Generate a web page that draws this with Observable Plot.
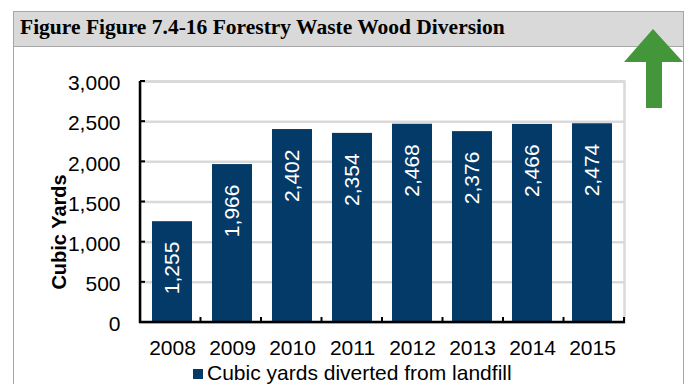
<!DOCTYPE html>
<html>
<head>
<meta charset="utf-8">
<script src="https://cdn.jsdelivr.net/npm/d3@7"></script>
<script src="https://cdn.jsdelivr.net/npm/@observablehq/plot@0.6"></script>
<style>
  html, body { margin: 0; padding: 0; background: #fff; }
  #wrap { position: relative; width: 690px; height: 384px; overflow: hidden; font-family: Arial, "Liberation Sans", sans-serif; }
  #box { position: absolute; left: 13px; top: 11px; width: 671px; height: 400px; border: 1px solid #a6a6a6; box-sizing: border-box; }
  #header { position: absolute; left: 13px; top: 11px; width: 671px; height: 36px; background: #d9d9d9; border: 1px solid #a6a6a6; box-sizing: border-box; }
  #title { position: absolute; left: 20px; top: 15px; font-family: "Liberation Serif", "Times New Roman", serif; font-weight: bold; font-size: 21.5px; color: #000; white-space: nowrap; }
  #chart { position: absolute; left: 0; top: 0; }
  #arrow { position: absolute; left: 0; top: 0; }
  #legend { position: absolute; left: 193px; top: 362px; font-size: 21px; line-height: 21px; color: #000; white-space: nowrap; display: flex; align-items: center; }
  #legend .sw { width: 10px; height: 10px; background: #043a68; margin-right: 4px; margin-top: 3px; }
</style>
</head>
<body>
<div id="wrap">
  <div id="box"></div>
  <div id="header"></div>
  <div id="title">Figure Figure 7.4-16 Forestry Waste Wood Diversion</div>
  <div id="chart"></div>
  <svg id="arrow" width="690" height="384"><polygon points="653,29 683,62 662,62 662,108 646,108 646,62 624,62" fill="#43963a"/></svg>
  <div id="legend"><span class="sw"></span><span>Cubic yards diverted from landfill</span></div>
</div>
<script>
const years = ["2008", "2009", "2010", "2011", "2012", "2013", "2014", "2015"];
const values = [1255, 1966, 2402, 2354, 2468, 2376, 2466, 2474];
const yTicks = [0, 500, 1000, 1500, 2000, 2500, 3000];
const seriesName = "Cubic yards diverted from landfill";
const yLabel = "Cubic Yards";

const data = years.map((year, i) => ({year, value: values[i]}));
const barColor = "#043a68";
const fmt = d3.format(",");

function axes(index, scales, values, dims) {
  const g = d3.create("svg:g");
  const x0 = dims.marginLeft, x1 = dims.width - dims.marginRight;
  const y0 = dims.height - dims.marginBottom, y1 = dims.marginTop;
  for (const t of yTicks) {
    const y = scales.y(t);
    g.append("line").attr("x1", x0).attr("x2", x0 + 5).attr("y1", y).attr("y2", y)
      .attr("stroke", "#000").attr("stroke-width", 2);
  }
  for (let i = 0; i <= years.length; i++) {
    const x = x0 + i * (x1 - x0) / years.length;
    g.append("line").attr("x1", x).attr("x2", x).attr("y1", y0).attr("y2", y0 - 5)
      .attr("stroke", "#000").attr("stroke-width", 2);
  }
  g.append("line").attr("x1", x0).attr("x2", x0).attr("y1", y1).attr("y2", y0 + 1)
    .attr("stroke", "#000").attr("stroke-width", 2.5);
  g.append("line").attr("x1", x0 - 1).attr("x2", x1 + 1).attr("y1", y0).attr("y2", y0)
    .attr("stroke", "#000").attr("stroke-width", 2.5);
  return g.node();
}

const chart = Plot.plot({
  width: 690,
  height: 384,
  marginLeft: 140,
  marginRight: 66,
  marginTop: 81,
  marginBottom: 62,
  style: {background: "transparent", fontFamily: "Arial, 'Liberation Sans', sans-serif", color: "#000"},
  x: {domain: years, paddingInner: 0.34, paddingOuter: 0.17, label: null},
  y: {domain: [0, 3000], label: null},
  marks: [
    Plot.ruleY(yTicks, {stroke: "#d9d9d9", strokeWidth: 2.5}),
    Plot.frame({stroke: "#d9d9d9", strokeWidth: 2.5}),
    Plot.barY(data, {x: "year", y: "value", fill: barColor}),
    Plot.text(data, {x: "year", y: "value", text: d => fmt(d.value), rotate: -90, textAnchor: "end", dy: 20, fill: "#fff", fontSize: 21}),
    axes,
    Plot.axisY(yTicks, {tickSize: 0, tickPadding: 20, tickFormat: d => fmt(d), fontSize: 21, dy: 2, label: null}),
    Plot.axisX({tickSize: 0, tickPadding: 18, fontSize: 21, label: null}),
    Plot.text([yLabel], {frameAnchor: "left", textAnchor: "middle", dx: -81, dy: 30, rotate: -90, fontSize: 20, fontWeight: "bold", text: d => d})
  ]
});
document.getElementById("chart").appendChild(chart);
</script>
</body>
</html>
